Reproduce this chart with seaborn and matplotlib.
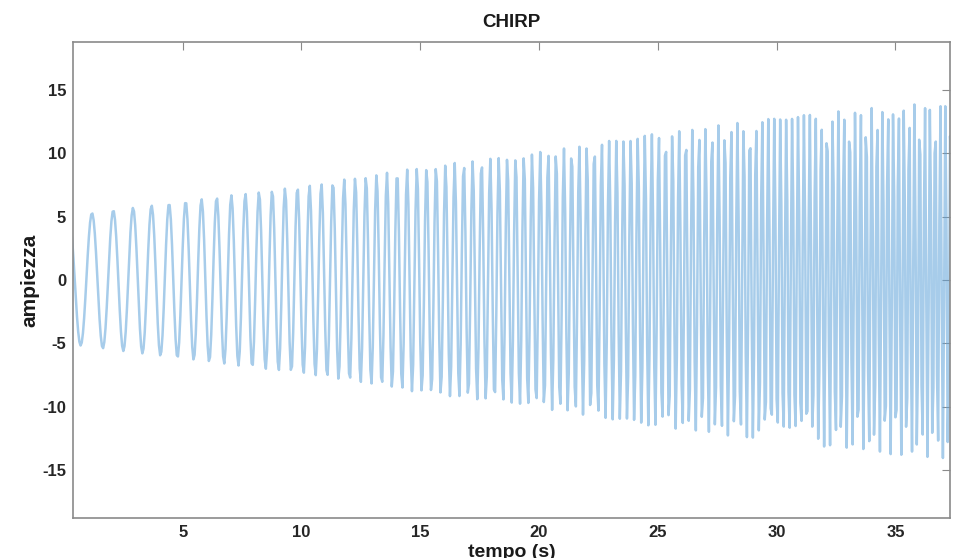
import numpy as np
import pandas as pd
import seaborn as sns
import matplotlib.pyplot as plt

# --- Values ---
# sampling of the recorded signal (samples per second) and time span shown
sample_rate = 20
t_start, t_end = 0.38, 37.3

# instantaneous frequency of the chirp (Hz), read from peak spacing
freq_t = [0.0, 10.0, 20.0, 30.0, 37.5]
freq_hz = [0.95, 1.95, 2.95, 3.95, 4.70]

# upper envelope of the oscillation, read from the peaks
env_t = [0.4, 1.2, 5.0, 10.0, 15.0, 20.0, 25.0, 30.0, 35.0, 37.3]
env_amp = [5.1, 5.3, 6.2, 7.4, 8.9, 10.1, 11.6, 12.8, 13.8, 14.1]

# time of the first positive peak
first_peak_t = 1.18

x_ticks = [5, 10, 15, 20, 25, 30, 35]
y_ticks = [-15, -10, -5, 0, 5, 10, 15]

# --- Build the sampled signal ---
t = np.arange(0, t_end + 0.5, 1 / sample_rate)
f_inst = np.interp(t, freq_t, freq_hz)
phase = np.cumsum(f_inst) / sample_rate
phase -= np.interp(first_peak_t, t, phase)
amp = np.interp(t, env_t, env_amp)
df = pd.DataFrame({"tempo": t, "ampiezza": amp * np.cos(2 * np.pi * phase)})

# --- Plot ---
sns.set_theme(style="white")
plt.rcParams["font.family"] = ["Liberation Sans", "DejaVu Sans"]
plt.rcParams["axes.unicode_minus"] = False

fig = plt.figure(figsize=(9.55, 5.58), dpi=100)
ax = fig.add_axes([0.0764, 0.0717, 0.9184, 0.853])

sns.lineplot(data=df, x="tempo", y="ampiezza", ax=ax, estimator=None,
             sort=False, color="#5fa3d9", linewidth=1.8, alpha=0.55)

ax.set_xlim(t_start, t_end)
ax.set_ylim(-18.8, 18.8)
ax.set_xticks(x_ticks)
ax.set_yticks(y_ticks)
ax.tick_params(direction="in", length=6, width=0.8, color="#8a8a8a",
               top=True, right=True, labelsize=12, labelcolor="#262626", pad=5)
for lbl in ax.get_xticklabels() + ax.get_yticklabels():
    lbl.set_fontweight("bold")
for sp in ax.spines.values():
    sp.set_color("#8a8a8a")
    sp.set_linewidth(1.2)

ax.set_title("CHIRP", fontsize=13.5, fontweight="bold", color="#1a1a1a", pad=11)
ax.set_xlabel("tempo (s)", fontsize=14, fontweight="bold", color="#1a1a1a", labelpad=3)
ax.set_ylabel("ampiezza", fontsize=15, fontweight="bold", color="#1a1a1a", labelpad=2)

fig.savefig("out.png", dpi=100)
